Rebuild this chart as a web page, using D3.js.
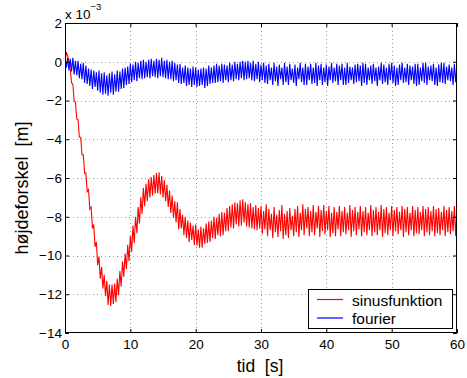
<!DOCTYPE html>
<html><head><meta charset="utf-8">
<script src="https://cdn.jsdelivr.net/npm/d3@7/dist/d3.min.js"></script>
<style>body{margin:0;background:#fff}svg{display:block;font-family:"Liberation Sans",Arial,sans-serif}</style>
</head><body>
<script>
// sample step of the time series [s]
const dt = 0.2;
const xTicks = [0, 10, 20, 30, 40, 50, 60];
const yTicks = [-14, -12, -10, -8, -6, -4, -2, 0, 2];
const seriesNames = ["sinusfunktion", "fourier"];
// values in units of 1e-3 m
const sinusfunktion = [
0.0,0.5,0.3,0.05,-0.35,
-1.1,-1.15,-2.0,-2.1,-2.95,
-3.0,-3.9,-3.9,-4.8,-4.8,
-5.75,-5.75,-6.7,-6.6,-7.6,
-7.5,-8.6,-8.4,-9.55,-9.3,
-10.5,-10.05,-11.2,-10.6,-11.7,
-11.0,-12.1,-11.3,-12.55,-11.5,
-12.6,-11.5,-12.5,-11.45,-12.4,
-11.2,-12.05,-10.8,-11.6,-10.3,
-11.1,-9.9,-10.7,-9.45,-10.3,
-9.0,-9.8,-8.45,-9.35,-8.0,
-8.85,-7.5,-8.35,-7.0,-7.85,
-6.5,-7.45,-6.3,-7.2,-6.05,
-7.0,-5.95,-6.9,-5.85,-6.8,
-5.75,-6.8,-5.7,-6.85,-5.9,
-7.0,-6.1,-7.2,-6.35,-7.5,
-6.65,-7.8,-6.9,-8.05,-7.2,
-8.3,-7.25,-8.65,-7.6,-8.6,
-7.9,-8.95,-8.0,-9.1,-8.2,
-9.3,-8.3,-9.2,-8.45,-9.45,
-8.4,-9.5,-8.65,-9.6,-8.5,
-9.6,-8.6,-9.4,-8.35,-9.35,
-8.25,-9.3,-8.2,-9.1,-8.0,
-9.15,-8.05,-8.95,-7.85,-9.0,
-7.75,-8.95,-7.8,-8.75,-7.55,
-8.75,-7.45,-8.55,-7.35,-8.6,
-7.25,-8.4,-7.3,-8.5,-7.15,
-8.45,-7.1,-8.3,-7.25,-8.5,
-7.35,-8.55,-7.3,-8.6,-7.5,
-8.65,-7.4,-8.7,-7.55,-8.6,
-7.45,-8.9,-7.7,-8.65,-7.35,
-9.0,-7.6,-8.7,-7.85,-9.1,
-7.5,-8.8,-7.9,-9.05,-7.65,
-8.75,-7.4,-9.15,-7.85,-8.95,
-7.7,-9.1,-7.55,-8.7,-7.95,
-9.0,-7.6,-8.8,-7.45,-9.05,
-7.8,-8.7,-7.35,-8.95,-7.6,
-8.6,-7.5,-9.0,-7.7,-8.8,
-7.4,-8.95,-7.75,-8.6,-7.45,
-9.05,-7.65,-8.75,-7.4,-8.9,
-7.7,-8.7,-7.45,-9.05,-7.8,
-8.85,-7.5,-9.0,-7.75,-8.65,
-7.45,-9.0,-7.7,-8.8,-7.5,
-8.9,-7.8,-8.7,-7.4,-9.05,
-7.65,-8.75,-7.5,-8.95,-7.75,
-8.65,-7.45,-9.0,-7.7,-8.8,
-7.5,-8.95,-7.8,-8.7,-7.4,
-9.0,-7.65,-8.8,-7.5,-8.95,
-7.75,-8.7,-7.4,-9.05,-7.6,
-8.85,-7.5,-8.95,-7.8,-8.7,
-7.45,-9.0,-7.65,-8.75,-7.5,
-8.9,-7.75,-8.7,-7.45,-9.05,
-7.6,-8.8,-7.5,-8.95,-7.8,
-8.7,-7.45,-9.0,-7.65,-8.85,
-7.5,-8.9,-7.75,-8.7,-7.45,
-9.0,-7.6,-8.8,-7.5,-8.95,
-7.7,-8.75,-7.45,-9.0,-7.6,
-8.85,-7.55,-8.95,-7.75,-8.7,
-7.45,-9.0,-7.65,-8.8,-7.5,
-8.9,-7.7,-8.75,-7.45,-9.0,
-7.65
];
const fourier = [
0.25,-0.3,0.2,-0.45,0.15,
-0.5,0.2,-0.65,0.05,-0.7,
0.05,-0.85,-0.1,-0.9,-0.05,
-1.1,-0.2,-1.15,-0.35,-1.25,
-0.4,-1.4,-0.45,-1.3,-0.55,
-1.5,-0.45,-1.6,-0.6,-1.7,
-0.55,-1.65,-0.7,-1.75,-0.6,
-1.6,-0.5,-1.7,-0.65,-1.55,
-0.45,-1.55,-0.5,-1.4,-0.35,
-1.35,-0.3,-1.2,-0.25,-1.15,
-0.1,-1.05,-0.15,-0.95,0.0,
-1.0,-0.05,-0.85,0.05,-0.9,
0.1,-0.85,0.0,-0.8,0.1,
-0.85,0.15,-0.75,0.05,-0.8,
0.15,-0.85,0.1,-0.75,0.2,
-0.8,0.05,-0.85,0.1,-0.9,
0.0,-0.9,0.05,-1.0,-0.05,
-0.95,-0.15,-1.1,-0.1,-1.15,
-0.3,-1.1,-0.2,-1.25,-0.3,
-1.2,-0.35,-1.3,-0.25,-1.2,
-0.3,-1.3,-0.4,-1.25,-0.35,
-1.2,-0.3,-1.35,-0.35,-1.25,
-0.2,-1.15,-0.3,-1.1,-0.2,
-1.1,-0.1,-1.05,-0.2,-1.0,
-0.1,-1.1,-0.15,-0.95,-0.2,
-1.05,-0.05,-0.95,-0.15,-1.0,
0.0,-0.9,-0.1,-0.95,0.0,
-0.85,0.05,-0.95,0.0,-0.9,
0.05,-0.85,-0.05,-0.95,0.05,
-1.0,-0.1,-0.9,0.0,-1.05,
-0.15,-0.95,-0.05,-1.1,-0.2,
-1.15,-0.1,-0.95,-0.3,-1.2,
-0.05,-1.0,-0.25,-1.25,-0.15,
-0.9,-0.3,-1.2,-0.05,-1.05,
-0.25,-1.2,-0.1,-0.95,-0.35,
-1.1,-0.15,-1.25,-0.3,-0.9,
-0.05,-1.05,-0.3,-1.2,-0.1,
-1.2,-0.25,-0.95,-0.1,-1.15,
-0.3,-1.1,-0.05,-1.25,-0.2,
-0.95,-0.1,-1.2,-0.3,-1.05,
-0.15,-1.25,-0.25,-0.95,-0.05,
-1.1,-0.3,-1.0,-0.1,-1.2,
-0.2,-0.95,-0.1,-1.2,-0.3,
-1.2,-0.05,-1.1,-0.25,-0.95,
-0.3,-1.15,-0.15,-1.05,-0.1,
-1.0,-0.2,-1.25,-0.05,-1.1,
-0.1,-1.2,-0.3,-0.95,-0.2,
-1.15,-0.1,-1.0,-0.3,-1.25,
-0.25,-0.95,-0.05,-1.15,-0.15,
-1.05,-0.3,-1.2,-0.1,-0.95,
-0.05,-1.1,-0.2,-1.25,-0.3,
-1.2,-0.15,-0.95,-0.05,-1.1,
-0.3,-1.05,-0.1,-1.2,-0.2,
-0.95,-0.25,-1.15,-0.1,-1.25,
-0.1,-1.2,-0.3,-1.0,-0.05,
-1.1,-0.05,-1.2,-0.25,-0.95,
-0.2,-1.0,-0.1,-1.2,-0.3,
-1.25,-0.15,-1.05,-0.05,-1.1,
-0.05,-1.15,-0.25,-0.95,-0.15,
-1.0,-0.3,-1.2,-0.1,-1.05,
-0.2
];
const colors = ["#ff0000", "#0000ff"];

const W = 467, H = 378;
const L = 65, R = 457, T = 23, B = 333;
const FONT = '"Liberation Sans",Arial,sans-serif';
const svg = d3.select("body").append("svg").attr("width", W).attr("height", H);
const x = d3.scaleLinear().domain([0, 60]).range([L, R]);
const y = d3.scaleLinear().domain([-14, 2]).range([B, T]);

// grid
const grid = svg.append("g").attr("stroke", "#9a9a9a").attr("stroke-width", 1).attr("stroke-dasharray", "1,3");
grid.selectAll(".gx").data(xTicks.slice(1, -1)).join("line")
  .attr("x1", d => Math.round(x(d)) + 0.5).attr("x2", d => Math.round(x(d)) + 0.5)
  .attr("y1", T).attr("y2", B);
grid.selectAll(".gy").data(yTicks.slice(1, -1)).join("line")
  .attr("y1", d => Math.round(y(d)) + 0.5).attr("y2", d => Math.round(y(d)) + 0.5)
  .attr("x1", L).attr("x2", R);

// data lines
svg.append("clipPath").attr("id", "c").append("rect")
  .attr("x", L).attr("y", T).attr("width", R - L).attr("height", B - T);
const line = d3.line().x((d, i) => x(i * dt)).y(d => y(d));
const plot = svg.append("g").attr("clip-path", "url(#c)");
[sinusfunktion, fourier].forEach((s, k) => {
  plot.append("path").datum(s).attr("d", line)
    .attr("fill", "none").style("stroke", colors[k]).attr("stroke-width", 1.1);
});

// axes
const fs = "13.5px";
const ax = svg.append("g").attr("transform", `translate(0,${B})`)
  .call(d3.axisBottom(x).tickValues(xTicks).tickSize(-4).tickPadding(6).tickFormat(d3.format("d")));
const axT = svg.append("g").attr("transform", `translate(0,${T})`)
  .call(d3.axisTop(x).tickValues(xTicks).tickSize(-4).tickFormat(""));
const ay = svg.append("g").attr("transform", `translate(${L},0)`)
  .call(d3.axisLeft(y).tickValues(yTicks).tickSize(-4).tickPadding(3).tickFormat(d => d < 0 ? "\u2212" + Math.abs(d) : d));
const ayR = svg.append("g").attr("transform", `translate(${R},0)`)
  .call(d3.axisRight(y).tickValues(yTicks).tickSize(-4).tickFormat(""));
[ax, axT, ay, ayR].forEach(g => {
  g.select(".domain").remove();
  g.selectAll("line").attr("stroke", "#000");
  g.selectAll("text").attr("fill", "#000").style("font-size", fs).style("font-family", FONT);
});
ax.selectAll("text").attr("dy", null).attr("y", 16);
svg.append("rect").attr("x", L + 0.5).attr("y", T + 0.5).attr("width", R - L - 1).attr("height", B - T - 1)
  .attr("fill", "none").attr("stroke", "#000").attr("stroke-width", 1);

// exponent
const ex = svg.append("text").attr("x", L).attr("y", 19).style("font-size", fs);
ex.append("tspan").text("x 10");
ex.append("tspan").attr("dy", -9).style("font-size", "9.5px").text("\u22123");

// axis labels
svg.append("text").attr("x", 260).attr("y", 372).attr("text-anchor", "middle")
  .style("font-size", "17.5px").style("white-space", "pre").text("tid  [s]");
svg.append("text").attr("transform", `translate(28,188) rotate(-90)`).attr("text-anchor", "middle")
  .style("font-size", "18px").style("white-space", "pre").text("højdeforskel  [m]");

// legend
const lg = svg.append("g");
lg.append("rect").attr("x", 308.5).attr("y", 289.5).attr("width", 144).attr("height", 39)
  .attr("fill", "#fff").attr("stroke", "#000");
seriesNames.forEach((n, k) => {
  const yy = 299.5 + k * 18.5;
  lg.append("line").attr("x1", 317).attr("x2", 343).attr("y1", yy).attr("y2", yy)
    .style("stroke", colors[k]).attr("stroke-width", 1.2);
  lg.append("text").attr("x", 352).attr("y", yy + 6).style("font-size", "15.5px").text(n);
});
</script>
</body></html>
